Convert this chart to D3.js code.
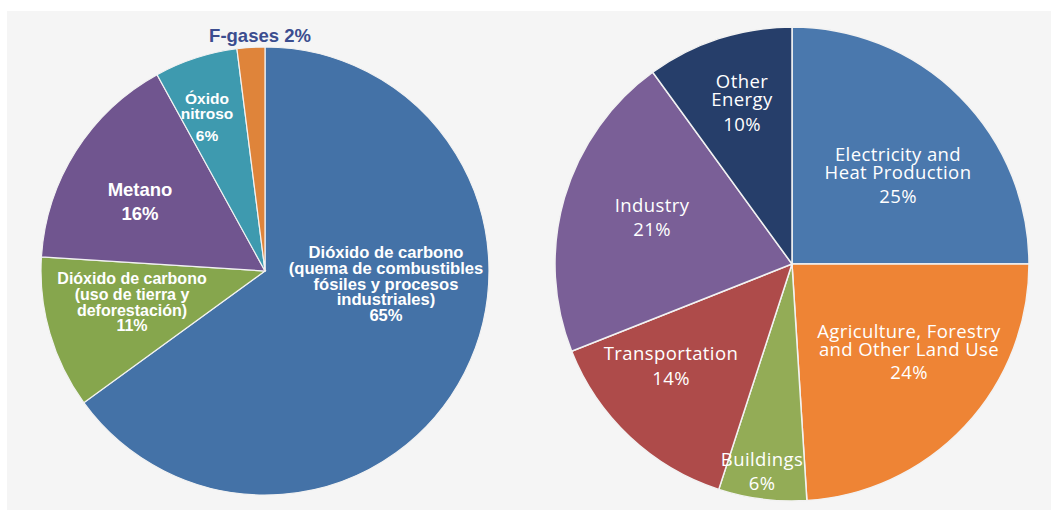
<!DOCTYPE html>
<html lang="es">
<head>
<meta charset="UTF-8">
<title>Emisiones</title>
<script src="https://cdn.jsdelivr.net/npm/d3@7"></script>
<style>
  body { margin: 0; background: #fff; }
</style>
</head>
<body>
<svg width="1051" height="510"></svg>
<script>
// --- left pie: gases ---
var gasLabels = [
    ["Dióxido de carbono", "(quema de combustibles", "fósiles y procesos", "industriales)"],
    ["Dióxido de carbono", "(uso de tierra y", "deforestación)"],
    ["Metano"],
    ["Óxido", "nitroso"],
    ["F-gases"]
];
var gasValues = [65, 11, 16, 6, 2];
var gasColors = ["#4472a7", "#86a64d", "#70558f", "#3e9aaf", "#df843a"];

// --- right pie: sectors ---
var sectorLabels = [
    ["Electricity and", "Heat Production"],
    ["Agriculture, Forestry", "and Other Land Use"],
    ["Buildings"],
    ["Transportation"],
    ["Industry"],
    ["Other", "Energy"]
];
var sectorValues = [25, 24, 6, 14, 21, 10];
var sectorColors = ["#4a78ad", "#ee8435", "#93ac56", "#ae4b4a", "#7a5f97", "#263e6a"];

var svg = d3.select("svg");

// grey panel
svg.append("rect").attr("x", 7).attr("y", 11).attr("width", 1044).attr("height", 499).attr("fill", "#f5f5f5");

var pie = d3.pie().sort(null).value(d => d);

function drawPie(cx, cy, r, values, colors, strokeW) {
    var arc = d3.arc().innerRadius(0).outerRadius(r);
    var g = svg.append("g").attr("transform", "translate(" + cx + "," + cy + ")");
    g.selectAll("path")
        .data(pie(values))
        .enter().append("path")
        .attr("d", arc)
        .attr("fill", (d, i) => colors[i])
        .attr("stroke", "#f2f2f2")
        .attr("stroke-width", strokeW);
    return g;
}

drawPie(265, 271, 224, gasValues, gasColors, 1.2);
drawPie(792, 264, 237, sectorValues, sectorColors, 1.5);

// label layout: x, y of first line, line step, gap before percent, font size, letter spacing
var gasLayout = [
    {x: 386, y: 252, lh: 15.8, pg: 15.5, fs: 16.6, ls: 0},
    {x: 132, y: 278, lh: 16, pg: 15, fs: 16, ls: 0},
    {x: 140, y: 189, lh: 24, pg: 24, fs: 18.5, ls: 0},
    {x: 207, y: 98, lh: 14.5, pg: 22, fs: 15.5, ls: 0},
    {x: 260, y: 35, lh: 0, pg: 0, fs: 18.5, ls: 0}
];
var sectorLayout = [
    {x: 898, y: 153, lh: 17.5, pg: 24, fs: 18.5, ls: 0.4},
    {x: 909, y: 330, lh: 17.5, pg: 23, fs: 18.5, ls: 0.4},
    {x: 762, y: 458, lh: 17.5, pg: 24, fs: 18.5, ls: 0.4},
    {x: 671, y: 352, lh: 17.5, pg: 25, fs: 18.5, ls: 0.4},
    {x: 652, y: 204, lh: 17.5, pg: 24, fs: 18.5, ls: 0.4},
    {x: 742, y: 80, lh: 18, pg: 25, fs: 18.5, ls: 0.4}
];

function drawLabels(labels, values, layout, family, weight, pctWeight) {
    labels.forEach(function (lines, i) {
        var L = layout[i];
        var t = svg.append("text")
            .attr("text-anchor", "middle")
            .attr("dominant-baseline", "central")
            .attr("font-family", family)
            .attr("font-size", L.fs)
            .attr("letter-spacing", L.ls)
            .attr("fill", "#fff");
        var y = L.y;
        lines.forEach(function (s, j) {
            if (j > 0) y += L.lh;
            t.append("tspan").attr("x", L.x).attr("y", y).attr("font-weight", weight).text(s);
        });
        if (L.lh === 0) {
            // single-line label outside the pie
            t.select("tspan").text(lines[0] + " " + values[i] + "%");
            t.attr("fill", "#3b4d8f");
        } else {
            t.append("tspan").attr("x", L.x).attr("y", y + L.pg).attr("font-weight", pctWeight).text(values[i] + "%");
        }
    });
}

drawLabels(gasLabels, gasValues, gasLayout, "'Liberation Sans', Arial, sans-serif", "bold", "bold");
drawLabels(sectorLabels, sectorValues, sectorLayout, "'Open Sans', 'Noto Sans', sans-serif", "normal", "normal");
</script>
</body>
</html>
